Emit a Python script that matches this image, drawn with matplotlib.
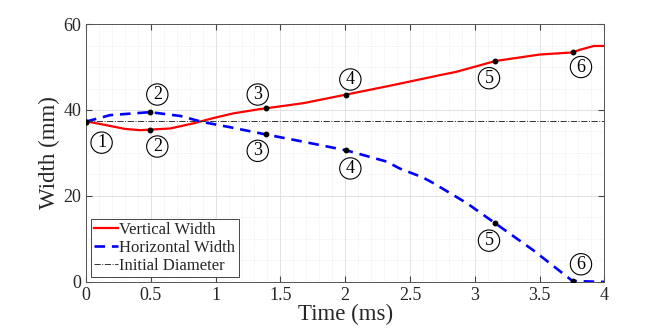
import matplotlib
matplotlib.use("Agg")
import matplotlib.pyplot as plt
from matplotlib.ticker import MultipleLocator

plt.rcParams['font.family'] = ['Liberation Serif', 'DejaVu Serif']
plt.rcParams['text.color'] = '#262626'
plt.rcParams['axes.labelcolor'] = '#262626'
plt.rcParams['xtick.labelcolor'] = '#262626'
plt.rcParams['ytick.labelcolor'] = '#262626'

# Vertical width (red)
t_vert = [0.0, 0.03, 0.185, 0.3, 0.417, 0.65, 0.83, 0.98, 1.135, 1.34, 1.39, 1.68, 2.01,
          2.37, 2.73, 2.86, 3.16, 3.5, 3.755, 3.81, 3.92, 4.0]
w_vert = [37.3, 37.2, 36.3, 35.6, 35.3, 35.7, 36.9, 38.1, 39.2, 40.2, 40.4, 41.6, 43.6,
          45.8, 48.1, 48.9, 51.4, 52.9, 53.4, 54.0, 54.9, 54.9]

# Horizontal width (blue)
t_horz = [0.0, 0.185, 0.494, 0.73, 0.9, 1.11, 1.39, 1.68, 2.01, 2.32, 2.42, 2.6,
          2.68, 2.94, 3.16, 3.45, 3.755, 4.0]
w_horz = [37.3, 38.8, 39.5, 38.6, 37.2, 36.0, 34.3, 32.6, 30.6, 28.0, 26.4, 24.3,
          23.0, 18.3, 13.6, 7.4, 0.2, 0.0]

init_diam = 37.4

# marked frames
mark_t = [0.0, 0.494, 1.39, 2.01, 3.16, 3.755]
mark_vert = [37.3, 35.3, 40.4, 43.6, 51.4, 53.4]
mark_horz = [37.3, 39.5, 34.3, 30.6, 13.6, 0.2]

# circled labels
lab_txt = ['1', '2', '2', '3', '3', '4', '4', '5', '5', '6', '6']
lab_t = [0.12, 0.55, 0.55, 1.325, 1.325, 2.04, 2.04, 3.11, 3.11, 3.82, 3.82]
lab_w = [32.4, 43.6, 31.5, 43.6, 30.5, 47.1, 26.4, 47.4, 9.6, 50.0, 4.1]

fig = plt.figure(figsize=(6.67, 3.34), dpi=100)
ax = fig.add_axes([0.129, 0.156, 0.777, 0.772])

ax.plot(t_vert, w_vert, color='red', lw=1.6, label='Vertical Width')
ax.plot(t_horz, w_horz, color='blue', lw=1.9, ls=(0, (4, 2.6)), label='Horizontal Width')
ax.axhline(init_diam, color='#333333', lw=0.7, ls='-.', label='Initial Diameter')

ax.plot(mark_t, mark_vert, 'o', color='black', ms=3.2, zorder=5)
ax.plot(mark_t, mark_horz, 'o', color='black', ms=3.2, zorder=5)

for s, x, y in zip(lab_txt, lab_t, lab_w):
    ax.text(x, y, s, fontsize=13, ha='center', va='center', color='black',
            bbox=dict(boxstyle='circle,pad=0.12', fc='white', ec='black', lw=0.8))

ax.set_xlim(0, 4)
ax.set_ylim(0, 60)
ax.xaxis.set_major_locator(MultipleLocator(0.5))
ax.xaxis.set_minor_locator(MultipleLocator(0.1))
ax.yaxis.set_major_locator(MultipleLocator(20))
ax.yaxis.set_minor_locator(MultipleLocator(5))
ax.xaxis.set_major_formatter(plt.FuncFormatter(lambda v, p: f'{v:g}'))

ax.grid(which='major', color='#dddddd', lw=0.6)
ax.grid(which='minor', color='#e3e3e3', lw=0.5, ls=':')
ax.set_axisbelow(True)
ax.tick_params(which='both', direction='in', top=True, right=True, labelsize=13,
               color='#444444')
ax.tick_params(which='minor', length=0)
ax.tick_params(which='major', length=4)
for sp in ax.spines.values():
    sp.set_color('#555555')
    sp.set_linewidth(0.7)

ax.set_xlabel('Time (ms)', fontsize=16.5, labelpad=0)
ax.set_ylabel('Width (mm)', fontsize=16.5, labelpad=2)

leg = ax.legend(loc='lower left', fontsize=12, handlelength=1.4, handletextpad=0.1,
                borderpad=0.2, labelspacing=0.1, borderaxespad=0.3, fancybox=False,
                framealpha=1, edgecolor='#444444')
leg.get_frame().set_linewidth(0.7)

fig.savefig('out.png', dpi=100)
